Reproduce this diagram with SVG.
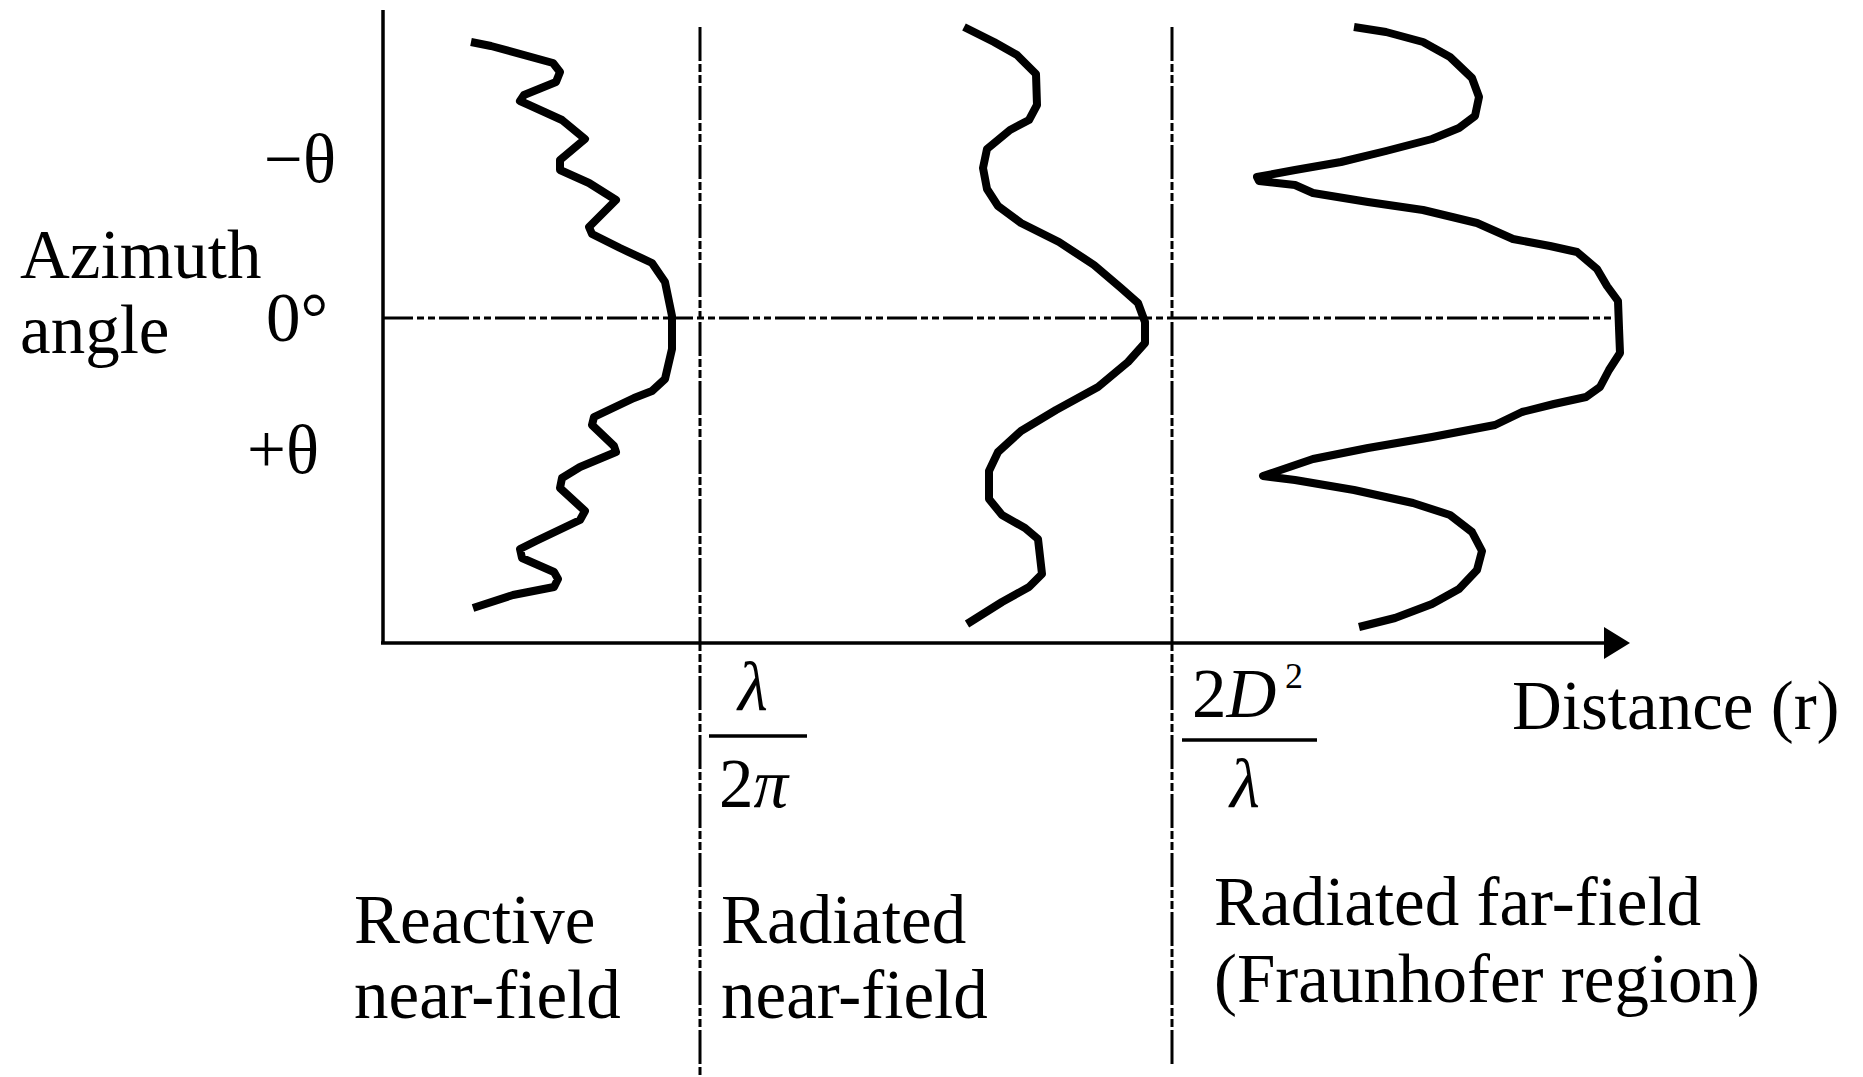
<svg xmlns="http://www.w3.org/2000/svg" width="1863" height="1077" viewBox="0 0 1863 1077">
<style>
text{font-family:"Liberation Serif","Times New Roman",serif;fill:#000}
.lbl{font-size:69px}
.m{font-size:69px;font-style:italic}
.curve{fill:none;stroke:#000;stroke-width:8;stroke-linejoin:round;stroke-linecap:butt}
.axis{fill:none;stroke:#000;stroke-width:3.5}
.hdd{fill:none;stroke:#000;stroke-width:3;stroke-dasharray:30 4 7 4 7 4}
.vdd{fill:none;stroke:#000;stroke-width:3;stroke-dasharray:34 3 8 3 8 3}
.bar{stroke:#000;stroke-width:3.5}
</style>
<defs>
<marker id="arr" viewBox="0 0 26 32" refX="0" refY="16" markerWidth="26" markerHeight="32" markerUnits="userSpaceOnUse" orient="auto">
<path d="M0,0 L26,16 L0,32 Z" fill="#000"/>
</marker>
</defs>
<rect width="1863" height="1077" fill="#fff"/>
<g id="connectors">
<line class="axis" x1="383" y1="10" x2="383" y2="643"/>
<line class="axis" x1="381" y1="643" x2="1604" y2="643" marker-end="url(#arr)"/>
<line class="hdd" x1="383" y1="318" x2="1614" y2="318"/>
<line class="vdd" x1="700" y1="27" x2="700" y2="1077"/>
<line class="vdd" x1="1172" y1="27" x2="1172" y2="1065"/>
</g>
<g id="curve-reactive">
<polyline class="curve" points="471,42 491,46 553,63 560,72 556,82 524,95 520,101 529,105 562,120 585,139 560,160 560,170 589,183 616,200 589,227 592,234 620,248 652,263 665,282 672,316 672,349 665,379 652,391 634,398 594,417 592,425 614,446 616,452 580,467 562,478 560,488 585,511 580,520 536,541 520,549 522,558 554,572 558,579 554,587 513,595 473,608"/>
</g>
<g id="curve-radiated">
<polyline class="curve" points="964,27 994,42 1017,55 1036,74 1037,105 1029,120 1010,130 987,149 983,168 987,189 998,206 1021,223 1059,242 1094,265 1121,288 1138,303 1145,322 1145,343 1128,362 1098,387 1056,410 1021,431 998,452 989,471 989,499 1002,515 1025,528 1038,539 1042,574 1029,587 1002,602 967,624"/>
</g>
<g id="curve-farfield">
<polyline class="curve" points="1354,27 1386,32 1423,42 1450,57 1472,78 1479,97 1475,116 1459,128 1432,139 1386,151 1341,162 1295,170 1257,177 1259,181 1295,185 1313,193 1368,202 1423,210 1477,223 1513,239 1550,246 1577,252 1597,269 1607,286 1618,301 1619,328 1620,353 1609,370 1600,387 1586,397 1554,404 1522,412 1495,425 1432,437 1368,448 1313,459 1263,476 1295,480 1354,490 1413,503 1450,515 1472,532 1482,551 1477,570 1459,589 1432,604 1395,618 1359,627"/>
</g>
<g id="axis-labels">
<text class="lbl" x="20" y="278">Azimuth</text>
<text class="lbl" x="20" y="353">angle</text>
<text class="lbl" x="264" y="182">−θ</text>
<text class="lbl" x="266" y="341">0°</text>
<text class="lbl" x="247" y="473">+θ</text>
<text class="lbl" x="1512" y="729">Distance (r)</text>
</g>
<g id="frac-near">
<text class="m" x="738" y="710">λ</text>
<line class="bar" x1="709" y1="736" x2="807" y2="736"/>
<text class="lbl" x="719" y="807">2<tspan font-style="italic">π</tspan></text>
</g>
<g id="frac-far">
<text class="lbl" x="1192" y="717">2<tspan font-style="italic">D</tspan></text>
<text x="1285" y="688" style="font-size:36px">2</text>
<line class="bar" x1="1182" y1="740" x2="1317" y2="740"/>
<text class="m" x="1230" y="807">λ</text>
</g>
<g id="region-reactive">
<text class="lbl" x="354" y="943">Reactive</text>
<text class="lbl" x="354" y="1018">near-field</text>
</g>
<g id="region-radiated-near">
<text class="lbl" x="721" y="943">Radiated</text>
<text class="lbl" x="721" y="1018">near-field</text>
</g>
<g id="region-far">
<text class="lbl" x="1214" y="925">Radiated far-field</text>
<text class="lbl" x="1214" y="1002">(Fraunhofer region)</text>
</g>
</svg>
